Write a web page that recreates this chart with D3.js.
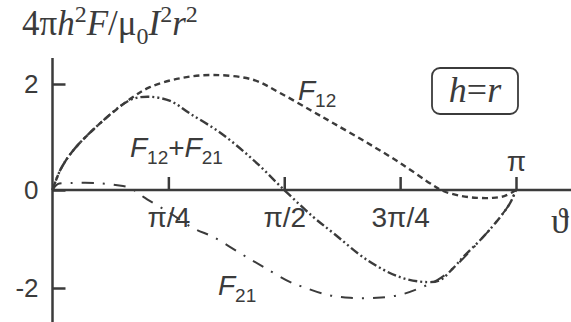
<!DOCTYPE html>
<html>
<head>
<meta charset="utf-8">
<script src="https://cdn.jsdelivr.net/npm/d3@7"></script>
<style>
body { margin: 0; background: #fff; }
svg { display: block; }
</style>
</head>
<body>
<div id="chart"></div>
<script>
// angle in units of pi, force values
var f12Theta = [0, 0.017, 0.045, 0.103, 0.168, 0.21, 0.276, 0.347, 0.433, 0.491, 0.556, 0.606, 0.679, 0.75, 0.821, 0.843, 0.88, 0.916, 0.95, 0.976, 1];
var f12Value = [0, 0.38, 0.75, 1.26, 1.72, 1.94, 2.11, 2.17, 2.08, 1.83, 1.51, 1.26, 0.89, 0.51, 0.09, -0.02, -0.12, -0.16, -0.16, -0.12, 0];

var f21Theta = [0, 0.011, 0.039, 0.097, 0.14, 0.168, 0.179, 0.196, 0.25, 0.304, 0.347, 0.405, 0.455, 0.513, 0.541, 0.593, 0.642, 0.70, 0.75, 0.793, 0.83, 0.864, 0.929, 0.966, 0.987, 1];
var f21Value = [0, 0.11, 0.13, 0.13, 0.09, 0.04, -0.02, -0.14, -0.45, -0.78, -0.96, -1.29, -1.57, -1.88, -1.98, -2.14, -2.20, -2.20, -2.14, -2.0, -1.84, -1.6, -0.96, -0.55, -0.27, 0];

var sumTheta = [0, 0.017, 0.045, 0.103, 0.168, 0.207, 0.254, 0.297, 0.362, 0.433, 0.5, 0.5625, 0.606, 0.679, 0.75, 0.808, 0.836, 0.864, 0.886, 0.929, 0.966, 0.987, 1];
var sumValue = [0, 0.38, 0.75, 1.26, 1.70, 1.76, 1.68, 1.44, 1.08, 0.57, 0, -0.55, -0.88, -1.43, -1.78, -1.88, -1.84, -1.6, -1.37, -0.96, -0.55, -0.27, 0];

var xTicks = [0.25, 0.5, 0.75, 1];
var xTickLabels = ['π/4', 'π/2', '3π/4', 'π'];
var yTicks = [-2, 0, 2];

var width = 571, height = 322;
var ink = '#3b3b3b';
var sans = '"Liberation Sans", Arial, sans-serif';
var serif = '"Times New Roman", "Liberation Serif", Times, serif';

var svg = d3.select('#chart').append('svg')
    .attr('width', width)
    .attr('height', height);

var x = d3.scaleLinear().domain([0, 1]).range([52.5, 516]);
// the picture is slightly stretched below zero
var y = d3.scaleLinear().domain([-2, 0, 2]).range([288, 190, 84]);

// x axis, ticks point up
var xAxis = svg.append('g')
    .attr('transform', 'translate(0,' + y(0) + ')')
    .call(d3.axisBottom(x).tickValues(xTicks).tickSize(-13).tickPadding(17)
        .tickFormat(function(d, i){ return xTickLabels[i]; }));
xAxis.select('.domain').remove();
xAxis.selectAll('.tick line').attr('stroke', ink).attr('stroke-width', 2.5);
xAxis.selectAll('.tick text')
    .attr('fill', ink)
    .style('font-family', sans)
    .style('font-size', '28px');
// pi sits above the axis
xAxis.selectAll('.tick text').filter(function(d){ return d === 1; })
    .attr('y', -39);

// y axis, ticks point right
var yAxis = svg.append('g')
    .attr('transform', 'translate(' + x(0) + ',0)')
    .call(d3.axisLeft(y).tickValues(yTicks).tickSize(-13).tickPadding(14)
        .tickFormat(function(d){ return d; }));
yAxis.select('.domain').remove();
yAxis.selectAll('.tick line').attr('stroke', ink).attr('stroke-width', 2.5);
yAxis.selectAll('.tick text')
    .attr('fill', ink)
    .style('font-family', sans)
    .style('font-size', '26px');

// axis lines
svg.append('line')
    .attr('x1', x(0)).attr('x2', width)
    .attr('y1', y(0)).attr('y2', y(0))
    .attr('stroke', ink).attr('stroke-width', 2.5);
svg.append('line')
    .attr('x1', x(0)).attr('x2', x(0))
    .attr('y1', 58).attr('y2', height)
    .attr('stroke', ink).attr('stroke-width', 2.5);

// curves
var line = d3.line()
    .x(function(d){ return x(d[0]); })
    .y(function(d){ return y(d[1]); })
    .curve(d3.curveCatmullRom.alpha(0.5));

var series = [
    { theta: f12Theta, value: f12Value, dash: '6,4', w: 2.4 },
    { theta: f21Theta, value: f21Value, dash: '12,9,2,9', w: 2 },
    { theta: sumTheta, value: sumValue, dash: '9,3,2,3,2,3', w: 2.4 }
];

series.forEach(function(s){
    svg.append('path')
        .datum(d3.zip(s.theta, s.value))
        .attr('d', line)
        .attr('fill', 'none')
        .attr('stroke', ink)
        .attr('stroke-width', s.w)
        .attr('stroke-dasharray', s.dash);
});

// text with sub/superscripts, parts: {t, i (italic), s ('sub'|'sup'), f (font)}
function richText(px, py, size, font, parts){
    var text = svg.append('text')
        .attr('x', px).attr('y', py)
        .attr('fill', ink)
        .style('font-family', font)
        .style('font-size', size + 'px');
    var shift = 0;
    parts.forEach(function(p){
        var target = p.s === 'sup' ? -size * 0.38 : (p.s === 'sub' ? size * 0.25 : 0);
        var span = text.append('tspan')
            .attr('dy', target - shift)
            .text(p.t);
        if(p.s) span.style('font-size', Math.round(size * 0.68) + 'px');
        if(p.i) span.style('font-style', 'italic');
        if(p.f) span.style('font-family', p.f);
        shift = target;
    });
    return text;
}

// y label
richText(22, 35, 35, serif, [
    { t: '4π' }, { t: 'h', i: 1 }, { t: '2', s: 'sup' },
    { t: 'F', i: 1 }, { t: '/μ' }, { t: '0', s: 'sub' },
    { t: 'I', i: 1 }, { t: '2', s: 'sup' },
    { t: 'r', i: 1 }, { t: '2', s: 'sup' }
]);

// curve labels
richText(298, 100, 28, sans, [{ t: 'F', i: 1 }, { t: '12', s: 'sub' }]);
richText(130, 157, 28, sans, [
    { t: 'F', i: 1 }, { t: '12', s: 'sub' }, { t: '+' },
    { t: 'F', i: 1 }, { t: '21', s: 'sub' }
]);
richText(218, 295, 28, sans, [{ t: 'F', i: 1 }, { t: '21', s: 'sub' }]);

// theta label
svg.append('text')
    .attr('x', 551).attr('y', 233)
    .attr('fill', ink)
    .style('font-family', serif)
    .style('font-size', '36px')
    .text('ϑ');

// h=r box
svg.append('rect')
    .attr('x', 432).attr('y', 68)
    .attr('width', 86).attr('height', 46)
    .attr('rx', 8)
    .attr('fill', 'none')
    .attr('stroke', ink)
    .attr('stroke-width', 1.8);
richText(0, 102, 36, serif, [{ t: 'h', i: 1 }, { t: '=' }, { t: 'r', i: 1 }])
    .attr('x', 475)
    .attr('text-anchor', 'middle');
</script>
</body>
</html>
